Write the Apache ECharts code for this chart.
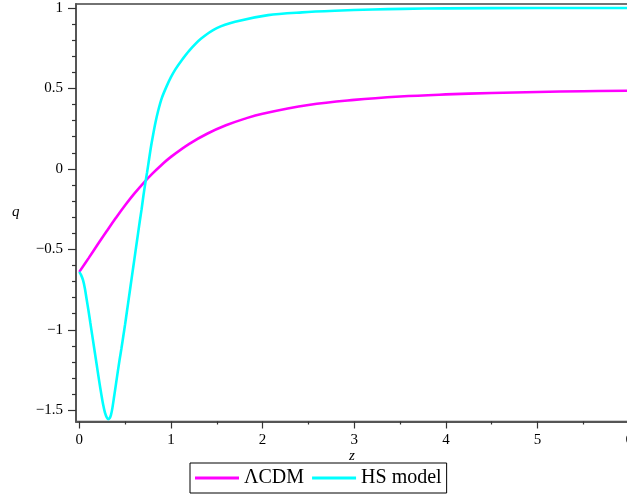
<!DOCTYPE html>
<html>
<head>
<meta charset="utf-8">
<script src="https://cdn.jsdelivr.net/npm/echarts@6/dist/echarts.min.js"></script>
<style>html,body{margin:0;padding:0;background:#fff;}#c{width:627px;height:499px;}</style>
</head>
<body>
<div id="c"></div>
<script>
// ΛCDM curve (z, q)
const lcdmZ = [0, 0.1, 0.2, 0.3, 0.4, 0.5, 0.6, 0.7, 0.8, 0.9, 1.0, 1.2, 1.4, 1.6, 1.8, 2.0, 2.5, 3.0, 3.5, 4.0, 4.5, 5.0, 5.5, 6.0];
const lcdmQ = [-0.64, -0.556, -0.470, -0.386, -0.304, -0.226, -0.154, -0.088, -0.028, 0.026, 0.075, 0.156, 0.220, 0.271, 0.311, 0.343, 0.397, 0.429, 0.450, 0.463, 0.472, 0.478, 0.483, 0.486];
// HS model curve (z, q)
const hsZ = [0, 0.02, 0.04, 0.06, 0.08, 0.1, 0.12, 0.14, 0.16, 0.18, 0.2, 0.22, 0.24, 0.26, 0.28, 0.3, 0.315, 0.33, 0.345, 0.36, 0.38, 0.4, 0.42, 0.44, 0.46, 0.48, 0.5, 0.52, 0.54, 0.56, 0.58, 0.6, 0.62, 0.64, 0.66, 0.68, 0.7, 0.72, 0.74, 0.76, 0.78, 0.8, 0.83, 0.86, 0.9, 0.95, 1.0, 1.05, 1.1, 1.2, 1.33, 1.5, 1.7, 2.06, 2.43, 2.79, 3.2, 3.53, 4.0, 5.0, 6.0];
const hsQ = [-0.64, -0.66, -0.69, -0.74, -0.81, -0.88, -0.955, -1.03, -1.105, -1.18, -1.255, -1.33, -1.40, -1.465, -1.515, -1.545, -1.555, -1.55, -1.53, -1.49, -1.415, -1.338, -1.26, -1.185, -1.115, -1.04, -0.965, -0.885, -0.805, -0.725, -0.645, -0.565, -0.485, -0.405, -0.325, -0.25, -0.165, -0.09, -0.02, 0.055, 0.13, 0.195, 0.285, 0.36, 0.44, 0.51, 0.57, 0.62, 0.662, 0.735, 0.81, 0.875, 0.915, 0.956, 0.973, 0.983, 0.991, 0.995, 0.998, 1.0, 1.0];
// Tick values
const xMajor = [0, 1, 2, 3, 4, 5, 6];
const xMinor = [0.5, 1.5, 2.5, 3.5, 4.5, 5.5];
const yMajor = [-1.5, -1, -0.5, 0, 0.5, 1];
const yMinor = [-1.4, -1.3, -1.2, -1.1, -0.9, -0.8, -0.7, -0.6, -0.4, -0.3, -0.2, -0.1, 0.1, 0.2, 0.3, 0.4, 0.6, 0.7, 0.8, 0.9];

const serif = 'Liberation Serif';
const fmt = v => {
  if (v < 0) return '\u2212' + String(Math.abs(v));
  return String(v);
};
const XMIN = -0.036, XMAX = 6.02, YMIN = -1.57, YMAX = 1.025;

const chart = echarts.init(document.getElementById('c'));
chart.setOption({
  animation: false,
  backgroundColor: '#fff',
  grid: { left: 76, right: -4, top: 4, bottom: 77.5, containLabel: false, outerBoundsMode: 'none', show: true, borderColor: '#444', borderWidth: 1.5, backgroundColor: 'transparent' },
  xAxis: [
    {
      type: 'value', min: XMIN, max: XMAX, position: 'bottom',
      axisLine: { show: true, onZero: false, lineStyle: { color: '#555', width: 2 } },
      axisTick: { show: true, customValues: xMajor, length: 7, lineStyle: { color: '#333', width: 1.2 } },
      axisLabel: { show: true, customValues: xMajor, margin: 11, fontFamily: serif, fontSize: 15, color: '#000', formatter: fmt, hideOverlap: false },
      splitLine: { show: false }
    },
    {
      type: 'value', min: XMIN, max: XMAX, position: 'bottom',
      axisLine: { show: false, onZero: false },
      axisTick: { show: true, customValues: xMinor, length: 3, lineStyle: { color: '#333', width: 1.2 } },
      axisLabel: { show: false },
      splitLine: { show: false }
    }
  ],
  yAxis: [
    {
      type: 'value', min: YMIN, max: YMAX, position: 'left',
      axisLine: { show: true, onZero: false, lineStyle: { color: '#555', width: 2 } },
      axisTick: { show: true, customValues: yMajor, length: 8, lineStyle: { color: '#333', width: 1.2 } },
      axisLabel: { show: true, customValues: yMajor, margin: 13, fontFamily: serif, fontSize: 15, color: '#000', formatter: fmt },
      splitLine: { show: false }
    },
    {
      type: 'value', min: YMIN, max: YMAX, position: 'left',
      axisLine: { show: false, onZero: false },
      axisTick: { show: true, customValues: yMinor, length: 4, lineStyle: { color: '#333', width: 1.2 } },
      axisLabel: { show: false },
      splitLine: { show: false }
    }
  ],
  legend: {
    left: 190, top: 463,
    padding: [5, 5, 5, 5],
    itemGap: 8,
    itemWidth: 44, itemHeight: 3,
    icon: 'rect',
    borderColor: '#000', borderWidth: 1,
    textStyle: { fontFamily: serif, fontSize: 20, color: '#000' },
    data: ['ΛCDM', 'HS model']
  },
  graphic: [
    { type: 'text', left: 12, top: 205, style: { text: 'q', fontFamily: serif, fontStyle: 'italic', fontSize: 15, fill: '#000' } },
    { type: 'text', left: 349, top: 449, style: { text: 'z', fontFamily: serif, fontStyle: 'italic', fontSize: 15, fill: '#000' } }
  ],
  series: [
    {
      name: 'ΛCDM', type: 'line', xAxisIndex: 0, yAxisIndex: 0,
      data: lcdmZ.map((z, i) => [z, lcdmQ[i]]),
      showSymbol: false, smooth: 0.4,
      lineStyle: { color: '#ff00ff', width: 2.6 }, itemStyle: { color: '#ff00ff' }
    },
    {
      name: 'HS model', type: 'line', xAxisIndex: 0, yAxisIndex: 0,
      data: hsZ.map((z, i) => [z, hsQ[i]]),
      showSymbol: false, smooth: 0.3,
      lineStyle: { color: '#00ffff', width: 2.6 }, itemStyle: { color: '#00ffff' }
    }
  ]
});
</script>
</body>
</html>
